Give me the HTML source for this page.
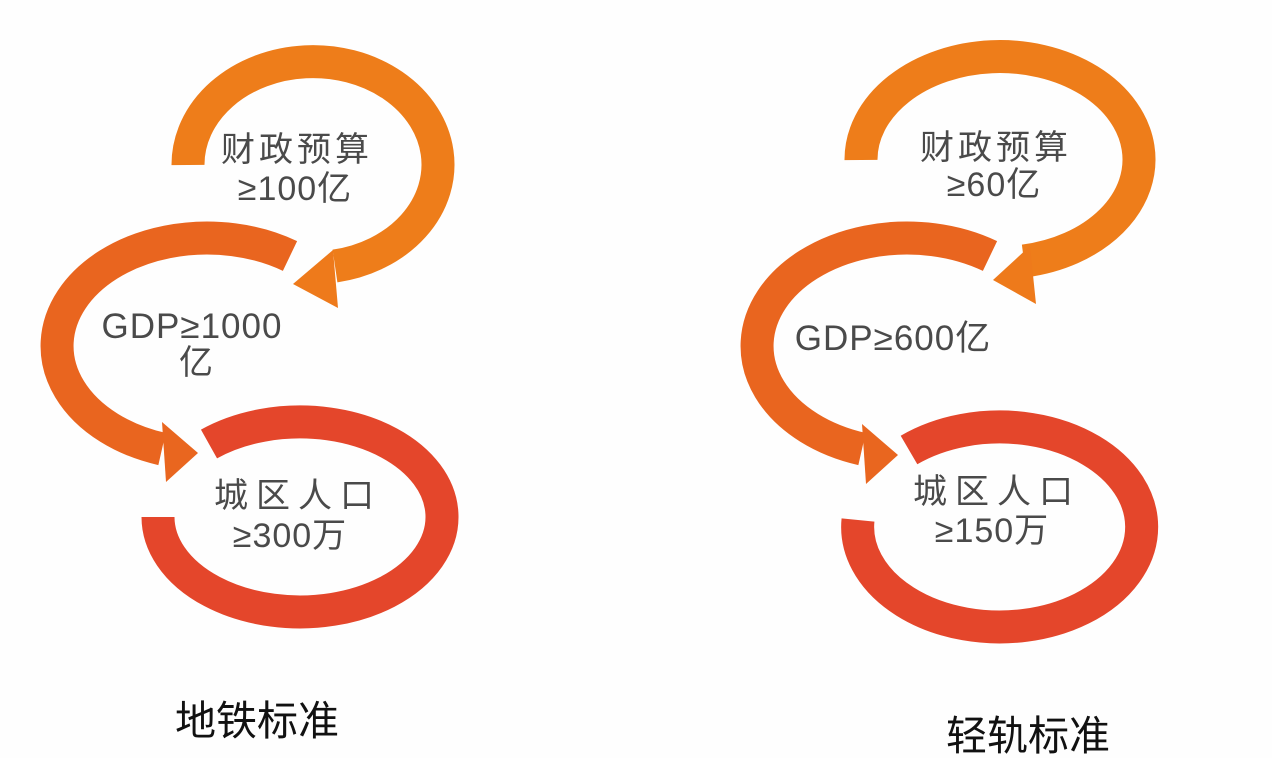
<!DOCTYPE html>
<html><head><meta charset="utf-8"><style>
html,body{margin:0;padding:0;background:#fff;}
svg{display:block;}
text{font-family:"Liberation Sans","Noto Sans CJK SC",sans-serif;}
</style></head><body>
<svg width="1272" height="758" viewBox="0 0 1272 758" xmlns="http://www.w3.org/2000/svg">
<rect width="1272" height="758" fill="#fefefe"/>
<g fill="none" stroke-width="33" stroke-linecap="butt">
<path d="M188 165 A125 103 0 1 1 335 266" stroke="#ee7d1a"/>
<path d="M290 256 A150 108 0 1 0 162 449" stroke="#e9651f"/>
<path d="M209 444 A142 95 0 1 1 158 517" stroke="#e4462b"/>
<path d="M861 160 A139 103 0 1 1 1024 261" stroke="#ee7d1a"/>
<path d="M990 256 A150 108 0 1 0 862 449" stroke="#e9651f"/>
<path d="M909 450 A142 100 0 1 1 858 520" stroke="#e4462b"/>
</g>
<polygon points="293,284 333,250 338,308" fill="#ee7a1b"/>
<polygon points="198,453 162,422 166,482" fill="#e9661f"/>
<polygon points="993,280 1030,246 1036,304" fill="#ee7a1b"/>
<polygon points="898,455 862,424 866,484" fill="#e9661f"/>
<g fill="#4a4a4a" font-size="34" text-anchor="middle">
<text x="297" y="161" letter-spacing="4">财政预算</text>
<text x="295" y="200" letter-spacing="1">≥100亿</text>
<text x="192" y="338" font-size="35" letter-spacing="1">GDP≥1000</text>
<text x="196" y="374">亿</text>
<text x="298" y="507" letter-spacing="8">城区人口</text>
<text x="290" y="547" letter-spacing="1">≥300万</text>
<text x="996" y="159" letter-spacing="4">财政预算</text>
<text x="994" y="196" letter-spacing="1">≥60亿</text>
<text x="893" y="350" font-size="35" letter-spacing="1">GDP≥600亿</text>
<text x="997" y="503" letter-spacing="8">城区人口</text>
<text x="992" y="542" letter-spacing="1">≥150万</text>
</g>
<g fill="#111" font-size="41" text-anchor="middle">
<text x="257" y="735">地铁标准</text>
<text x="1028" y="750">轻轨标准</text>
</g>
</svg>
</body></html>
